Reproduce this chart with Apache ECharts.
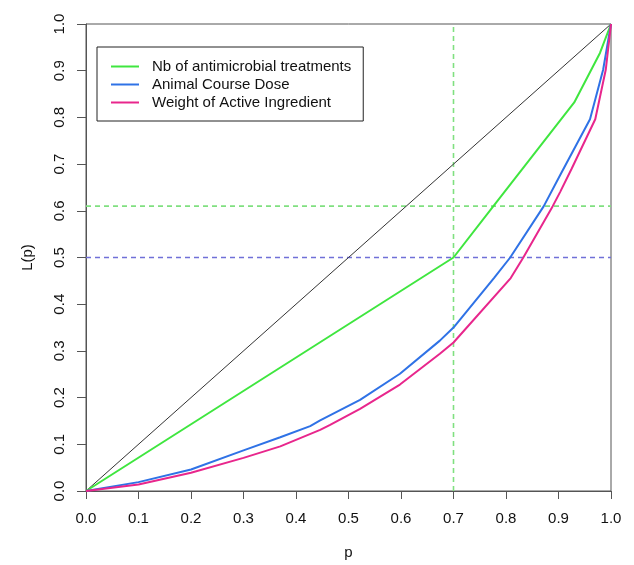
<!DOCTYPE html>
<html><head><meta charset="utf-8">
<script src="https://cdn.jsdelivr.net/npm/echarts@6/dist/echarts.min.js"></script>
<style>html,body{margin:0;padding:0;background:#fff}#c{width:634px;height:565px}</style>
</head><body><div id="c"></div>
<script>
var seriesNames = ['Nb of antimicrobial treatments', 'Animal Course Dose', 'Weight of Active Ingredient'];
var nbTreatments = [[0,0],[0.7,0.5],[0.776,0.61],[0.93,0.832],[0.979,0.938],[1,1]];
var courseDose = [[0,0],[0.1,0.019],[0.2,0.046],[0.3,0.087],[0.37,0.115],[0.427,0.139],[0.446,0.151],[0.522,0.195],[0.598,0.251],[0.674,0.322],[0.7,0.35],[0.777,0.456],[0.808,0.5],[0.872,0.61],[0.903,0.676],[0.96,0.796],[0.985,0.902],[1,1]];
var activeIngredient = [[0,0],[0.1,0.014],[0.2,0.039],[0.3,0.071],[0.37,0.0955],[0.446,0.131],[0.465,0.1415],[0.522,0.176],[0.598,0.228],[0.674,0.294],[0.7,0.318],[0.809,0.456],[0.833,0.5],[0.889,0.61],[0.903,0.64],[0.925,0.69],[0.97,0.796],[0.99,0.902],[1,1]];
var equality = [[0,0],[1,1]];
var hLines = [0.61, 0.5];
var vLines = [0.7];

var font = 'Liberation Sans, Arial, sans-serif';
var chart = echarts.init(document.getElementById('c'), null, {renderer:'canvas'});
var lineSer = function(name, data, color) {
  return {type:'line', name:name, data:data, symbol:'none', showSymbol:false,
    lineStyle:{color:color, width:2}, itemStyle:{color:color}, z:5, silent:true};
};
var refSer = function(name, data, color) {
  return {type:'line', name:name, data:data, symbol:'none', showSymbol:false, z:3, silent:true,
    lineStyle:{color:color, width:1.6, type:[5,4]}, itemStyle:{color:color}};
};
chart.setOption({
  animation:false,
  backgroundColor:'#fff',
  textStyle:{fontFamily:font},
  grid:{left:86, right:23, top:24, bottom:70, show:true, borderColor:'#555', borderWidth:1},
  legend:{
    data:seriesNames, orient:'vertical', left:97, top:47,
    padding:[12,12,11,13], itemGap:3, itemWidth:28, itemHeight:14,
    itemStyle:{opacity:0},
    borderColor:'#222', borderWidth:1, borderRadius:0,
    textStyle:{fontFamily:font, fontSize:15, color:'#111', padding:[0,0,0,8]},
    selectedMode:false
  },
  xAxis:{type:'value', min:0, max:1, interval:0.1,
    name:'p', nameLocation:'middle', nameGap:54, nameTextStyle:{fontFamily:font, fontSize:15, color:'#111'},
    axisLine:{show:true, lineStyle:{color:'#555', width:1}},
    axisTick:{show:true, length:8, lineStyle:{color:'#555'}},
    axisLabel:{fontFamily:font, fontSize:15, color:'#111', margin:20, formatter:function(v){return v.toFixed(1);}},
    splitLine:{show:false}},
  yAxis:{type:'value', min:0, max:1, interval:0.1,
    name:'L(p)', nameLocation:'middle', nameGap:51, nameTextStyle:{fontFamily:font, fontSize:15, color:'#111'},
    axisLine:{show:true, lineStyle:{color:'#555', width:1}},
    axisTick:{show:true, length:9, lineStyle:{color:'#555'}},
    axisLabel:{fontFamily:font, fontSize:15, color:'#111', margin:19, rotate:90, formatter:function(v){return v.toFixed(1);}},
    splitLine:{show:false}},
  series:[
    refSer('h61', [[0,hLines[0]],[1,hLines[0]]], '#80e080'),
    refSer('h50', [[0,hLines[1]],[1,hLines[1]]], '#7070d8'),
    refSer('v70', [[vLines[0],0],[vLines[0],1]], '#80e080'),
    {type:'line', name:'equality', data:equality, symbol:'none', lineStyle:{color:'#333', width:1}, z:4, silent:true},
    lineSer(seriesNames[0], nbTreatments, '#3fe63f'),
    lineSer(seriesNames[1], courseDose, '#2f72e6'),
    lineSer(seriesNames[2], activeIngredient, '#e8268c')
  ]
});
</script></body></html>
